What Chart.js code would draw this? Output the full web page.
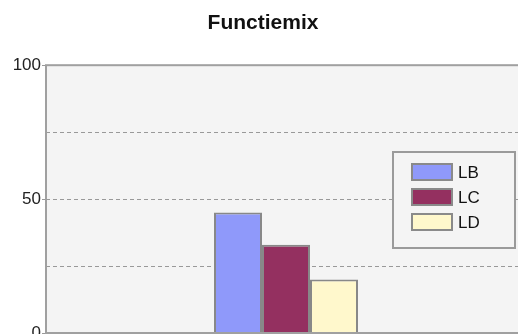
<!DOCTYPE html>
<html>
<head>
<meta charset="utf-8">
<script src="https://cdn.jsdelivr.net/npm/chart.js@4"></script>
<style>
  html, body { margin: 0; padding: 0; background: #fff; overflow: hidden; }
  #wrap { width: 518px; height: 334px; overflow: hidden; position: relative; }
  #box { position: absolute; left: 0; top: 0; width: 530px; height: 360px; }
</style>
</head>
<body>
<div id="wrap"><div id="box"><canvas id="chart"></canvas></div></div>
<script>
// Datos del gráfico
const categories = [''];
const seriesNames = ['LB', 'LC', 'LD'];
const seriesValues = [[45], [33], [20]];
const seriesColors = ['#8f99fa', '#943060', '#fff8cc'];
const yTicks = [0, 25, 50, 75, 100];
const yTickLabels = { 0: '0', 50: '50', 100: '100' };

// Fondo gris del área de trazado
const plotBackground = {
    id: 'plotBackground',
    beforeDraw(chart) {
        const { ctx, chartArea: a } = chart;
        ctx.save();
        ctx.fillStyle = '#f4f4f4';
        ctx.fillRect(a.left, a.top, a.right - a.left, a.bottom - a.top);
        ctx.restore();
    }
};

// Marco y leyenda dentro del gráfico
const frameAndLegend = {
    id: 'frameAndLegend',
    afterDraw(chart) {
        const { ctx, chartArea: a } = chart;
        ctx.save();
        ctx.strokeStyle = '#a0a0a0';
        ctx.lineWidth = 2;
        ctx.strokeRect(a.left, a.top, a.right - a.left, a.bottom - a.top);

        // caja de la leyenda
        const bx = 393, by = 152, bw = 122, bh = 96;
        ctx.fillStyle = '#f4f4f4';
        ctx.fillRect(bx, by, bw, bh);
        ctx.strokeStyle = '#9a9a9a';
        ctx.lineWidth = 2;
        ctx.strokeRect(bx, by, bw, bh);

        ctx.font = '17px "Liberation Sans", Arial, sans-serif';
        ctx.textBaseline = 'middle';
        chart.data.datasets.forEach((ds, i) => {
            const y = 172 + i * 25;
            ctx.fillStyle = ds.backgroundColor;
            ctx.fillRect(412, y - 8, 40, 16);
            ctx.strokeStyle = '#8a8a8a';
            ctx.lineWidth = 2;
            ctx.strokeRect(412, y - 8, 40, 16);
            ctx.fillStyle = '#111';
            ctx.fillText(ds.label, 458, y + 1);
        });
        ctx.restore();
    }
};

const datasets = seriesNames.map((name, i) => ({
    label: name,
    data: seriesValues[i],
    backgroundColor: seriesColors[i],
    borderColor: '#888888',
    borderWidth: 2,
    categoryPercentage: 0.3,
    barPercentage: 1.0
}));

new Chart(document.getElementById('chart'), {
    type: 'bar',
    data: { labels: categories, datasets: datasets },
    plugins: [plotBackground, frameAndLegend],
    options: {
        responsive: true,
        maintainAspectRatio: false,
        animation: false,
        layout: { padding: { top: 0, right: 4, bottom: 27, left: 0 } },
        plugins: {
            legend: { display: false },
            tooltip: { enabled: false },
            title: {
                display: true,
                text: 'Functiemix',
                color: '#111',
                font: { family: '"Liberation Sans", Arial, sans-serif', size: 21, weight: 'bold' },
                padding: { top: 11, bottom: 29 }
            }
        },
        scales: {
            x: { display: false },
            y: {
                min: 0,
                max: 100,
                afterFit(scale) { scale.width = 46; },
                afterBuildTicks(scale) { scale.ticks = yTicks.map(v => ({ value: v })); },
                border: { display: false, dash: [4, 3] },
                grid: {
                    color: '#999999',
                    lineWidth: 1,
                    tickLength: 4,
                    tickColor: ctx => (ctx.tick && yTickLabels[ctx.tick.value] !== undefined ? '#999999' : 'rgba(0,0,0,0)'),
                    tickBorderDash: []
                },
                ticks: {
                    padding: 1,
                    color: '#222',
                    font: { family: '"Liberation Sans", Arial, sans-serif', size: 17 },
                    callback: v => (yTickLabels[v] !== undefined ? yTickLabels[v] : '')
                }
            }
        }
    }
});
</script>
</body>
</html>
